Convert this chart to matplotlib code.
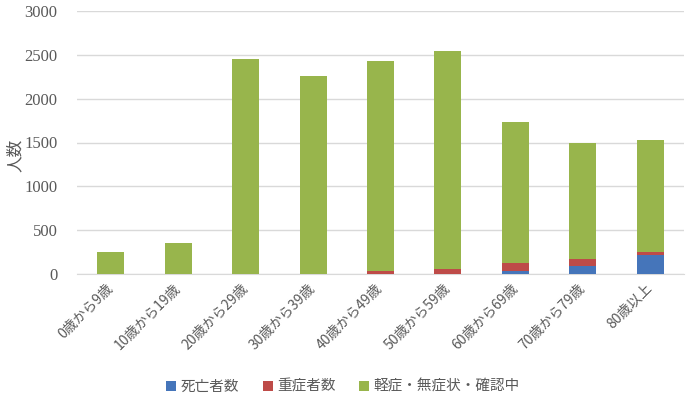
import matplotlib
matplotlib.use("Agg")
import matplotlib.pyplot as plt
import numpy as np

plt.rcParams['font.family'] = ['Noto Sans CJK JP', 'DejaVu Sans']

categories = ["0歳から9歳", "10歳から19歳", "20歳から29歳", "30歳から39歳", "40歳から49歳",
              "50歳から59歳", "60歳から69歳", "70歳から79歳", "80歳以上"]
deaths = [0, 0, 0, 0, 0, 5, 35, 95, 217]
severe = [0, 0, 0, 0, 35, 53, 91, 77, 35]
mild = [250, 354, 2452, 2258, 2395, 2485, 1607, 1322, 1276]
series_names = ["死亡者数", "重症者数", "軽症・無症状・確認中"]
colors = ["#4575BA", "#BE4B48", "#98B54C"]
text_color = "#595959"

fig = plt.figure(figsize=(6.88, 4.01), dpi=100)
ax = fig.add_axes([77/688, 1-274/401, (684-77)/688, (274-11)/401])
x = np.arange(len(categories))
w = 0.4
d = np.array(deaths); s = np.array(severe); m = np.array(mild)
ax.bar(x, d, w, color=colors[0], label=series_names[0], zorder=3)
ax.bar(x, s, w, bottom=d, color=colors[1], label=series_names[1], zorder=3)
ax.bar(x, m, w, bottom=d+s, color=colors[2], label=series_names[2], zorder=3)

ax.set_xlim(-0.5, len(categories)-0.5)
ax.set_ylim(0, 3000)
ax.set_yticks(range(0, 3001, 500))
ax.yaxis.grid(True, color="#D9D9D9", linewidth=1, zorder=0)
for sp in ["top", "right", "left"]:
    ax.spines[sp].set_visible(False)
ax.spines["bottom"].set_color("#D9D9D9")
ax.tick_params(axis="both", length=0, colors=text_color, labelsize=10.5)
ax.tick_params(axis="y", pad=14)
ax.tick_params(axis="x", pad=9)
ax.set_xticks(x)
ax.set_xticklabels(categories, rotation=45, ha="right", va="center", rotation_mode="anchor", fontsize=10)
for lbl in ax.get_yticklabels():
    lbl.set_family(['Liberation Serif', 'DejaVu Serif'])
    lbl.set_fontsize(12)
ax.set_ylabel("人数", color=text_color, fontsize=12)
ax.yaxis.set_label_coords((24-77)/607, (274-155)/263)

handles, labels = ax.get_legend_handles_labels()
fig.legend(handles, labels, loc="center", bbox_to_anchor=(343/688, 1-387/401), ncol=3, frameon=False,
           fontsize=10.5, handlelength=0.7, handleheight=0.7, columnspacing=1.6, handletextpad=0.3,
           labelcolor=text_color)

fig.savefig("out.png", dpi=100)
